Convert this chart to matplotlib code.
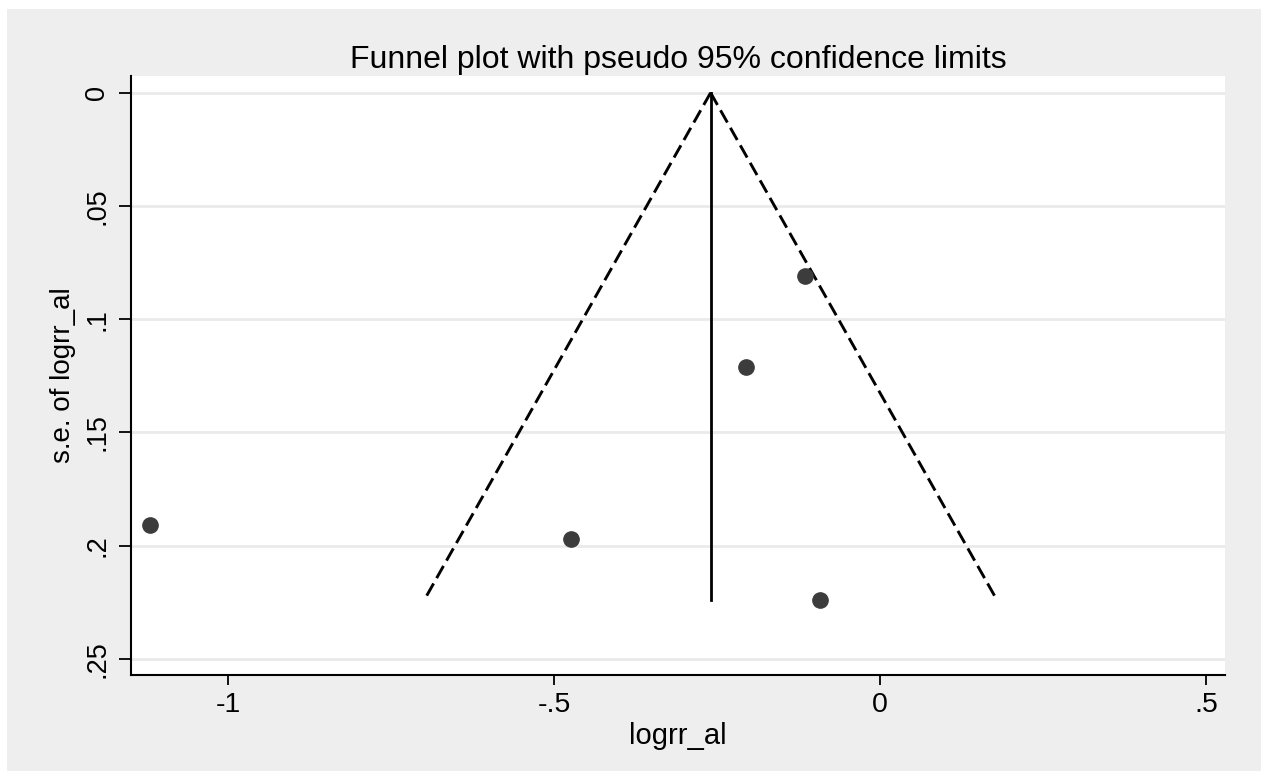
import numpy as np
import matplotlib
matplotlib.use("Agg")
import matplotlib.pyplot as plt
from matplotlib.patches import Rectangle

plt.rcParams['font.family'] = ['Liberation Sans', 'DejaVu Sans']

# study estimates
logrr = [-1.12, -0.474, -0.205, -0.115, -0.092]
se = [0.191, 0.197, 0.121, 0.081, 0.224]
pooled = -0.26
se_max = 0.224

x_ticks = [-1, -0.5, 0, 0.5]
x_labels = ['-1', '-.5', '0', '.5']
y_ticks = [0, 0.05, 0.1, 0.15, 0.2, 0.25]
y_labels = ['0', '.05', '.1', '.15', '.2', '.25']

BG = '#eeeeee'
GRID = '#eaeaea'

fig = plt.figure(figsize=(12.61, 7.71), dpi=100)
fig.patch.set_facecolor('white')
fig.patches.append(Rectangle((7 / 1261, -0.1), 1.2, 1.1 - 9 / 771, transform=fig.transFigure,
                             facecolor=BG, edgecolor='none', zorder=-10))

ax = fig.add_axes([131 / 1261, 96 / 771, 1094 / 1261, 599 / 771])
ax.set_facecolor('white')

# pseudo 95% limits
se_line = np.array([0, se_max])
dash = (0, (4.8, 2.1))
ax.plot(pooled - 1.96 * se_line, se_line, color='black', lw=2.1, ls=dash, zorder=3)
ax.plot(pooled + 1.96 * se_line, se_line, color='black', lw=2.1, ls=dash, zorder=3)
ax.plot([pooled, pooled], se_line, color='black', lw=2, zorder=3)

ax.plot(logrr, se, 'o', color='#3c3c3c', markersize=11, zorder=4)

ax.set_xlim(-1.149, 0.529)
ax.set_ylim(0.2572, -0.0074)

ax.set_xticks(x_ticks)
ax.set_xticklabels(x_labels)
ax.set_yticks(y_ticks)
ax.set_yticklabels(y_labels, rotation=90, va='center')
ax.tick_params(axis='x', labelsize=20.5, length=7, width=1.3, pad=5)
ax.tick_params(axis='y', labelsize=19.5, length=9, width=1.3, pad=6)

ax.grid(axis='y', color=GRID, lw=2)
ax.set_axisbelow(True)

for s in ['top', 'right']:
    ax.spines[s].set_visible(False)
for s in ['left', 'bottom']:
    ax.spines[s].set_linewidth(1.5)

ax.set_xlabel('logrr_al', fontsize=21, labelpad=3)
ax.set_ylabel('s.e. of logrr_al', fontsize=20, labelpad=6)
ax.set_title('Funnel plot with pseudo 95% confidence limits', fontsize=23, pad=6)

fig.savefig('out.png', dpi=100)
